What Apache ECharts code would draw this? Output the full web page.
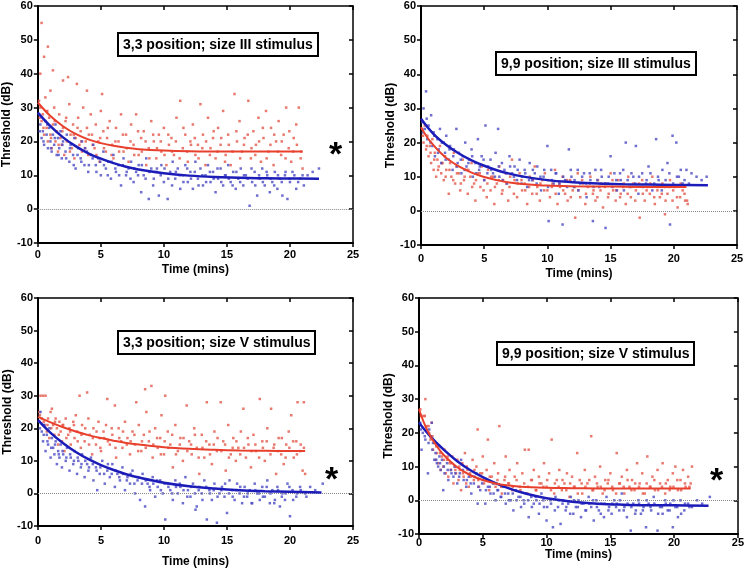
<!DOCTYPE html>
<html><head><meta charset="utf-8">
<script src="https://cdn.jsdelivr.net/npm/echarts@6/dist/echarts.min.js"></script>
<style>html,body{margin:0;padding:0;background:#fff}#c{width:747px;height:569px}</style>
</head><body><div id="c"></div>
<script>
// ---- tick labels ----
const xTicks = [0, 5, 10, 15, 20, 25];
const yTicks = [-10, 0, 10, 20, 30, 40, 50, 60];
const titles = ['3,3 position; size III stimulus', '9,9 position; size III stimulus', '3,3 position; size V stimulus', '9,9 position; size V stimulus'];

// ---- scatter points, flat [t, dB, t, dB, ...] ----
const p1Red = [0.1,32,0.2,30,0.3,26,0.4,28,0.5,22,0.6,33,0.7,24,0.8,20,0.9,27,1.0,22,1.1,18,1.2,25,1.3,30,1.4,20,1.5,23,1.6,17,1.7,28,1.8,21,1.9,19,2.0,24,2.1,16,2.2,26,2.3,20,2.5,31,2.6,22,2.7,18,2.8,25,2.9,15,3.0,21,3.2,27,3.3,19,3.4,23,3.5,17,3.6,30,3.8,20,3.9,24,4.0,16,4.2,28,4.3,22,4.5,18,4.6,25,4.8,20,4.9,14,5.0,29,5.2,23,5.4,17,5.5,21,5.7,26,5.9,19,6.0,15,6.2,24,6.4,20,6.6,28,6.8,17,7.0,22,7.2,14,7.4,25,7.6,19,7.8,28,8.0,16,8.2,21,8.4,23,8.6,13,8.8,18,9.0,26,9.2,20,9.4,15,9.6,22,9.8,17,10.0,24,10.2,13,10.4,19,10.6,21,10.8,16,11.0,27,11.3,32,11.5,18,11.7,22,11.9,14,12.1,20,12.3,25,12.5,16,12.7,19,12.9,31,13.1,22,13.3,13,13.5,27,13.7,18,13.9,21,14.1,15,14.3,24,14.5,19,14.7,29,14.9,16,15.1,22,15.3,13,15.6,34,15.8,20,16.0,26,16.2,17,16.4,21,16.7,32,16.9,15,17.1,23,17.3,19,17.5,27,17.7,14,17.9,21,18.1,29,18.3,17,18.5,24,18.7,13,18.9,20,19.1,26,19.3,16,19.5,22,19.7,30,19.9,18,20.1,14,20.3,21,20.5,25,20.7,30,20.9,17,21.0,12,0.3,55,0.8,48,0.5,45,1.2,41,2.0,38,2.4,39,3.1,37,3.9,35,0.2,40,5.1,34,1.0,35];
const p1RedB = [0.15,27,0.45,24,0.75,29,1.05,21,1.35,26,1.65,19,1.95,23,2.25,27,2.55,17,2.85,22,3.15,24,3.45,20,3.75,18,4.05,22,4.35,19,4.65,16,4.95,21,5.25,18,5.55,24,5.85,16,6.15,20,6.45,17,6.75,22,7.05,18,7.35,20,7.65,16,7.95,23,8.25,17,8.55,20,8.85,15,9.15,22,9.45,18,9.75,20,10.05,16,10.35,22,10.65,17,10.95,20,11.25,15,11.55,24,11.85,17,12.15,19,12.45,21,12.75,15,13.05,18,13.35,20,13.65,16,13.95,23,14.25,17,14.55,21,14.85,14,15.15,19,15.45,17,15.75,23,16.05,15,16.35,19,16.65,22,16.95,18,17.25,16,17.55,20,17.85,24,18.15,15,18.45,19,18.75,22,19.05,17,19.35,20,19.65,15,19.95,23,20.25,17,20.55,19,20.85,15];
const p1Blue = [0.1,28,0.2,25,0.3,21,0.4,23,0.5,19,0.6,26,0.7,22,0.8,18,0.9,24,1.0,20,1.1,17,1.2,22,1.3,19,1.4,25,1.5,16,1.6,21,1.7,18,1.8,23,1.9,15,2.0,20,2.2,17,2.3,22,2.5,14,2.6,19,2.8,16,2.9,21,3.0,12,3.2,18,3.4,15,3.5,20,3.7,13,3.9,17,4.0,11,4.2,16,4.4,19,4.6,13,4.8,15,5.0,10,5.2,17,5.4,12,5.6,14,5.8,9,6.0,16,6.2,11,6.4,13,6.6,7,6.8,15,7.0,10,7.2,12,7.4,14,7.6,8,7.8,11,8.0,13,8.2,5,8.4,10,8.6,15,8.8,3,9.0,12,9.2,9,9.4,11,9.6,4,9.8,13,10.0,8,10.3,3,10.5,11,10.7,14,10.9,9,11.1,12,11.3,6,11.5,10,11.7,13,11.9,8,12.1,11,12.3,6,12.5,14,12.7,9,12.9,12,13.1,7,13.3,10,13.5,13,13.7,8,13.9,11,14.1,5,14.3,9,14.5,12,14.7,7,14.9,10,15.1,13,15.3,8,15.5,11,15.7,6,15.9,9,16.1,12,16.3,7,16.5,10,16.8,1,17.0,8,17.2,11,17.4,4,17.6,9,17.8,12,18.0,7,18.2,10,18.4,5,18.6,8,18.8,11,19.0,6,19.2,9,19.4,4,19.6,10,19.8,3,20.0,8,20.2,11,20.5,6,20.8,9,21.1,7,21.4,10,21.8,11,22.3,12];
const p1BlueB = [0.15,23,0.45,20,0.75,25,1.05,18,1.35,21,1.65,16,1.95,19,2.25,15,2.55,18,2.85,13,3.15,16,3.45,14,3.75,18,4.05,13,4.35,15,4.65,11,4.95,14,5.25,13,5.55,10,5.85,14,6.15,12,6.45,10,6.75,13,7.05,11,7.35,9,7.65,12,7.95,10,8.25,13,8.55,9,8.85,11,9.15,7,9.45,12,9.75,10,10.05,12,10.35,9,10.65,7,10.95,11,11.25,10,11.55,8,11.85,12,12.15,9,12.45,11,12.75,7,13.05,10,13.35,8,13.65,11,13.95,9,14.25,12,14.55,8,14.85,10,15.15,9,15.45,7,15.75,11,16.05,8,16.35,10,16.65,9,16.95,12,17.25,7,17.55,10,17.85,8,18.15,11,18.45,9,18.75,7,19.05,10,19.35,8,19.65,11,19.95,9,20.35,10,20.65,8,21.0,10];
const p2Red = [0.1,24,0.2,20,0.3,25,0.4,18,0.5,22,0.6,16,0.7,19,0.8,14,0.9,21,1.0,12,1.1,17,1.2,10,1.3,15,1.4,13,1.5,19,1.6,11,1.7,14,1.8,9,1.9,16,2.0,12,2.2,5,2.3,14,2.4,10,2.6,17,2.7,8,2.8,13,3.0,11,3.1,6,3.3,15,3.4,9,3.6,12,3.7,5,3.9,10,4.0,14,4.2,8,4.3,3,4.5,11,4.7,7,4.8,13,5.0,9,5.2,4,5.3,12,5.5,6,5.7,10,5.8,2,6.0,8,6.2,13,6.4,5,6.5,9,6.7,11,6.9,3,7.0,7,7.2,15,7.4,9,7.6,4,7.8,11,8.0,6,8.2,8,8.4,2,8.6,10,8.8,5,9.0,13,9.2,7,9.4,3,9.6,9,9.8,11,10.0,6,10.2,4,10.4,8,10.6,12,10.8,2,11.0,7,11.2,10,11.4,5,11.6,3,11.8,9,12.0,6,12.2,-2,12.4,11,12.6,4,12.8,8,13.0,2,13.2,7,13.4,10,13.6,5,13.8,3,14.0,9,14.2,6,14.4,1,14.6,8,14.8,4,15.0,11,15.2,6,15.4,3,15.6,9,15.8,5,16.0,7,16.2,2,16.4,10,16.6,4,16.8,8,17.0,6,17.3,-2,17.5,9,17.7,3,17.9,7,18.1,5,18.3,10,18.5,2,18.7,6,18.9,4,19.1,8,19.3,-1,19.5,5,19.7,9,19.9,3,20.1,7,20.3,1,20.5,4,20.7,6,20.9,3,21.1,2];
const p2RedB = [0.15,22,0.45,19,0.75,17,1.05,15,1.35,12,1.65,14,1.95,10,2.25,12,2.55,9,2.85,11,3.15,8,3.45,10,3.75,12,4.05,7,4.35,9,4.65,11,4.95,6,5.25,8,5.55,10,5.85,7,6.15,9,6.45,6,6.75,8,7.05,10,7.35,5,7.65,8,7.95,9,8.25,6,8.55,7,8.85,9,9.15,5,9.45,8,9.75,6,10.05,9,10.35,7,10.65,5,10.95,8,11.25,6,11.55,9,11.85,4,12.15,7,12.45,6,12.75,9,13.05,5,13.35,8,13.65,6,13.95,4,14.25,8,14.55,7,14.85,5,15.15,9,15.45,6,15.75,4,16.05,8,16.35,5,16.65,7,16.95,3,17.25,8,17.55,5,17.85,6,18.15,8,18.45,4,18.75,7,19.05,5,19.35,3,19.65,7,19.95,6,20.25,4,20.55,8,20.85,5,21.05,3];
const p2Blue = [0.2,30,0.4,35,0.1,26,0.3,24,0.5,21,0.6,25,0.8,28,0.9,19,1.0,23,1.1,16,1.3,21,1.4,18,1.5,24,1.6,14,1.8,20,1.9,17,2.0,22,2.2,15,2.3,19,2.5,12,2.6,18,2.8,24,2.9,14,3.0,17,3.2,11,3.3,16,3.5,20,3.6,13,3.8,15,4.0,18,4.1,10,4.3,14,4.5,21,4.6,12,4.8,16,5.0,9,5.1,25,5.3,13,5.5,15,5.7,11,5.9,17,6.1,24,6.2,10,6.4,14,6.6,12,6.8,8,7.0,16,7.2,11,7.4,13,7.6,9,7.8,15,8.0,10,8.2,12,8.4,7,8.6,14,8.8,9,9.0,11,9.2,13,9.5,6,9.7,10,10.0,19,10.1,-3,10.3,12,10.5,8,10.7,11,10.9,5,11.2,-4,11.4,9,11.7,18,11.9,10,12.1,7,12.4,12,12.6,8,12.9,11,13.1,4,13.4,9,13.6,-3,13.8,12,14.1,7,14.3,10,14.6,-5,14.8,8,15.0,16,15.3,11,15.5,6,15.8,9,16.0,12,16.2,20,16.5,7,16.8,10,17.0,19,17.2,5,17.5,11,17.8,8,18.0,13,18.3,6,18.6,21,18.8,9,19.1,12,19.3,7,19.5,14,19.7,-4,19.9,22,20.2,20,20.4,10,20.7,8,21.0,12,21.4,11,21.8,10,22.2,9,22.6,10];
const p2BlueB = [0.15,23,0.45,27,0.75,20,1.05,22,1.35,17,1.65,20,1.95,15,2.25,18,2.55,16,2.85,13,3.15,15,3.45,12,3.75,14,4.05,16,4.35,11,4.65,13,4.95,15,5.25,11,5.55,12,5.85,10,6.15,13,6.45,9,6.75,11,7.05,13,7.35,10,7.65,12,7.95,8,8.25,11,8.55,9,8.85,12,9.15,8,9.45,10,9.75,12,10.05,7,10.35,9,10.65,11,10.95,8,11.25,10,11.55,7,11.85,12,12.15,9,12.45,6,12.75,10,13.05,8,13.35,11,13.65,7,13.95,9,14.25,12,14.55,8,14.85,10,15.15,7,15.45,9,15.75,11,16.05,6,16.35,9,16.65,11,16.95,8,17.25,10,17.55,7,17.85,9,18.15,11,18.45,8,18.75,10,19.05,6,19.35,9,19.65,11,19.95,8,20.25,10,20.55,12,20.85,9,21.2,8];
const p3Red = [0.2,30,0.4,30,0.6,30,0.1,25,0.3,23,0.5,21,0.7,19,0.8,23,0.9,17,1.0,25,1.1,26,1.2,21,1.3,18,1.4,23,1.5,20,1.6,15,1.7,22,1.8,19,1.9,16,2.0,21,2.1,13,2.2,23,2.4,18,2.5,20,2.6,15,2.8,22,2.9,17,3.0,24,3.1,19,3.3,30,3.4,14,3.5,21,3.7,16,3.9,31,4.0,23,4.1,18,4.3,12,4.4,20,4.6,15,4.8,22,4.9,17,5.0,13,5.2,19,5.4,21,5.5,29,5.7,15,5.9,18,6.1,27,6.2,11,6.4,20,6.6,16,6.7,14,6.9,22,7.1,17,7.3,12,7.5,19,7.7,15,7.8,28,8.0,21,8.2,13,8.4,18,8.5,32,8.6,25,8.8,16,9.0,33,9.1,11,9.3,20,9.5,14,9.7,17,9.8,24,10.0,12,10.1,30,10.3,19,10.5,15,10.7,8,10.9,21,11.1,13,11.3,17,11.5,10,11.8,27,12.0,16,12.2,12,12.4,20,12.6,14,12.8,6,13.0,18,13.2,11,13.4,28,13.6,15,13.8,9,14.0,19,14.2,13,14.5,28,14.7,16,14.9,7,15.1,21,15.3,12,15.5,17,15.7,10,15.9,14,16.1,19,16.3,26,16.5,11,16.7,15,16.9,8,17.1,18,17.3,13,17.6,29,17.8,16,18.0,10,18.2,20,18.5,26,18.7,14,18.9,6,19.1,17,19.3,12,19.5,9,19.7,15,19.9,19,20.1,24,20.3,11,20.5,16,20.6,28,20.8,13,21.0,7,21.1,28,21.2,6];
const p3RedB = [0.15,24,0.45,22,0.75,21,1.05,20,1.35,22,1.65,18,1.95,21,2.25,17,2.55,19,2.85,21,3.15,16,3.45,18,3.75,20,4.05,15,4.35,17,4.65,19,4.95,14,5.25,17,5.55,16,5.85,20,6.15,14,6.45,17,6.75,19,7.05,15,7.35,16,7.65,18,7.95,13,8.25,16,8.55,14,8.85,19,9.15,15,9.45,17,9.75,12,10.05,16,10.35,14,10.65,18,10.95,12,11.25,15,11.55,17,11.85,13,12.15,15,12.45,18,12.75,11,13.05,14,13.35,16,13.65,12,13.95,15,14.25,17,14.55,13,14.85,15,15.15,11,15.45,14,15.75,16,16.05,12,16.35,14,16.65,17,16.95,13,17.25,15,17.55,11,17.85,14,18.15,16,18.45,12,18.75,15,19.05,13,19.35,17,19.65,11,19.95,14,20.25,16,20.55,12,20.85,15,21.1,14];
const p3Blue = [0.1,22,0.2,25,0.3,19,0.4,16,0.5,21,0.6,13,0.7,18,0.8,15,0.9,20,1.0,11,1.1,17,1.2,14,1.3,12,1.4,16,1.5,9,1.6,13,1.7,11,1.8,15,1.9,8,2.0,12,2.2,10,2.3,14,2.5,7,2.6,11,2.8,9,2.9,13,3.1,6,3.2,10,3.4,8,3.5,12,3.7,5,3.9,9,4.0,7,4.2,11,4.4,4,4.6,8,4.7,1,4.9,6,5.1,10,5.3,3,5.5,7,5.7,5,5.9,9,6.1,2,6.3,6,6.5,4,6.7,8,6.9,1,7.1,5,7.3,3,7.5,7,7.7,0,7.9,4,8.1,-2,8.3,6,8.5,-4,8.7,3,8.9,1,9.1,5,9.3,-1,9.5,2,9.7,4,9.9,0,10.1,-8,10.3,3,10.5,1,10.7,-2,10.9,4,11.1,0,11.3,2,11.5,-3,11.7,5,11.9,1,12.1,-1,12.3,3,12.5,-5,12.6,-4,12.8,2,13.0,0,13.2,4,13.4,-8,13.6,1,13.8,-2,14.0,3,14.2,-9,14.4,0,14.6,2,14.8,-1,15.0,-6,15.2,4,15.4,1,15.6,-2,15.8,3,16.0,0,16.2,-3,16.4,2,16.6,-1,16.8,1,17.0,-3,17.2,3,17.4,0,17.6,-2,17.8,2,18.0,-1,18.2,4,18.4,-3,18.6,1,18.8,-2,19.0,2,19.2,-4,19.4,0,19.6,-2,19.8,3,20.0,-7,20.2,1,20.5,-1,20.8,2,21.2,0,21.6,2,22.0,1,22.6,3];
const p3BlueB = [0.15,20,0.45,18,0.75,16,1.05,14,1.35,15,1.65,12,1.95,13,2.25,11,2.55,12,2.85,10,3.15,11,3.45,9,3.75,10,4.05,8,4.35,9,4.65,7,4.95,8,5.25,6,5.55,9,5.85,6,6.15,7,6.45,5,6.75,6,7.05,4,7.35,6,7.65,3,7.95,5,8.25,3,8.55,4,8.85,2,9.15,3,9.45,4,9.75,1,10.05,3,10.35,2,10.65,0,10.95,2,11.25,3,11.55,1,11.85,-1,12.15,2,12.45,0,12.75,1,13.05,-2,13.35,2,13.65,0,13.95,1,14.25,-1,14.55,1,14.85,3,15.15,0,15.45,-1,15.75,1,16.05,2,16.35,-1,16.65,0,16.95,-3,17.25,1,17.55,0,17.85,-1,18.15,2,18.45,0,18.75,-3,19.05,1,19.35,-1,19.65,0,19.95,2,20.25,-2,20.55,0,20.85,1,21.3,-1];
const p4Red = [0.1,27,0.2,25,0.4,25,0.5,30,0.6,22,0.8,20,0.9,18,1.0,23,1.1,15,1.2,17,1.3,12,1.4,14,1.5,11,1.6,16,1.7,9,1.8,13,1.9,10,2.0,15,2.1,8,2.2,12,2.3,7,2.4,11,2.5,9,2.6,13,2.7,5,2.8,10,2.9,8,3.0,12,3.1,6,3.2,9,3.3,3,3.4,11,3.5,7,3.6,14,3.7,5,3.8,9,3.9,4,4.0,8,4.2,12,4.3,6,4.5,10,4.6,21,4.7,4,4.8,8,5.0,13,5.1,5,5.3,9,5.4,18,5.5,3,5.7,7,5.9,11,6.0,4,6.2,8,6.3,22,6.5,2,6.7,6,6.8,13,7.0,5,7.1,9,7.3,3,7.5,7,7.7,11,7.9,4,8.1,8,8.3,15,8.5,2,8.6,15,8.8,6,9.0,9,9.2,3,9.4,7,9.6,5,9.8,11,10.0,4,10.2,8,10.4,18,10.6,2,10.8,6,11.0,9,11.2,3,11.4,5,11.6,8,11.8,1,12.0,7,12.2,4,12.4,14,12.6,6,12.8,2,13.0,9,13.2,5,13.5,19,13.6,3,13.8,7,14.0,4,14.2,10,14.4,2,14.6,6,14.8,5,15.0,8,15.2,3,15.5,14,15.7,5,15.9,7,16.1,2,16.3,9,16.5,4,16.7,6,16.9,3,17.1,11,17.3,5,17.5,8,17.7,2,17.9,13,18.1,4,18.3,7,18.5,3,18.7,9,18.9,5,19.1,11,19.3,2,19.5,6,19.7,4,19.9,8,20.1,10,20.3,3,20.5,6,20.7,9,20.9,4,21.1,7,21.3,5,21.4,10];
const p4RedB = [0.15,25,0.45,25,0.75,22,1.05,19,1.35,16,1.65,14,1.95,12,2.25,13,2.55,11,2.85,9,3.15,10,3.45,8,3.75,10,4.05,7,4.35,9,4.65,6,4.95,8,5.25,6,5.55,7,5.85,5,6.15,6,6.45,4,6.75,7,7.05,5,7.35,4,7.65,6,7.95,3,8.25,5,8.55,4,8.85,6,9.15,3,9.45,5,9.75,4,10.05,6,10.35,3,10.65,5,10.95,4,11.25,6,11.55,3,11.85,5,12.15,4,12.45,2,12.75,5,13.05,4,13.35,6,13.65,3,13.95,5,14.25,4,14.55,3,14.85,6,15.15,4,15.45,2,15.75,5,16.05,4,16.35,6,16.65,3,16.95,5,17.25,4,17.55,2,17.85,5,18.15,4,18.45,6,18.75,3,19.05,4,19.35,5,19.65,3,19.95,4,20.25,6,20.55,3,20.85,5,21.2,4];
const p4Blue = [0.1,23,0.2,15,0.3,20,0.5,18,0.7,8,0.8,21,0.9,19,1.0,23,1.1,17,1.2,12,1.3,14,1.4,11,1.5,10,1.6,13,1.7,9,1.8,12,1.9,3,2.0,8,2.2,11,2.3,6,2.5,9,2.7,7,2.8,10,3.0,5,3.2,8,3.3,12,3.5,6,3.7,4,3.9,7,4.1,2,4.3,5,4.5,8,4.6,-1,4.8,3,5.0,6,5.2,-1,5.4,4,5.6,2,5.8,5,6.0,0,6.2,3,6.4,1,6.6,4,6.8,-1,7.0,2,7.2,0,7.4,-3,7.6,3,7.8,1,8.0,-2,8.2,0,8.4,2,8.6,-5,8.8,1,9.0,-1,9.2,0,9.4,-4,9.6,2,9.8,-2,10.0,-6,10.3,0,10.5,-8,10.7,1,10.9,-2,11.1,-7,11.3,0,11.5,-3,11.7,-1,11.9,1,12.1,-4,12.3,-2,12.5,0,12.7,-5,12.9,-1,13.1,-3,13.3,1,13.5,-2,13.7,-6,13.9,0,14.1,-3,14.3,-1,14.5,-5,14.7,1,14.9,-2,15.1,-4,15.3,0,15.5,-1,15.7,-3,15.9,2,16.1,-2,16.3,-5,16.6,-9,16.8,-1,17.0,-3,17.2,0,17.4,-4,17.6,-2,17.8,-8,18.0,-1,18.2,-3,18.4,1,18.7,-9,18.9,-2,19.1,-4,19.3,0,19.5,-3,19.7,-1,19.9,-8,20.1,-2,20.3,-5,20.5,0,20.8,-3,21.1,-1,21.4,-2,21.8,0,22.2,-1,22.8,1];
const p4BlueB = [0.15,21,0.45,19,0.75,17,1.05,15,1.35,12,1.65,11,1.95,10,2.25,9,2.55,8,2.85,8,3.15,7,3.45,9,3.75,6,4.05,5,4.35,7,4.65,4,4.95,5,5.25,3,5.55,4,5.85,2,6.15,3,6.45,1,6.75,2,7.05,0,7.35,2,7.65,0,7.95,1,8.25,-1,8.55,0,8.85,-2,9.15,1,9.45,-1,9.75,0,10.05,-2,10.35,-1,10.65,-3,10.95,0,11.25,-1,11.55,-2,11.85,-4,12.15,0,12.45,-2,12.75,-1,13.05,-3,13.35,-1,13.65,0,13.95,-2,14.25,-4,14.55,-1,14.85,-3,15.15,-1,15.45,-2,15.75,0,16.05,-3,16.35,-1,16.65,-2,16.95,-4,17.25,-1,17.55,-3,17.85,0,18.15,-2,18.45,-1,18.75,-4,19.05,-2,19.35,-1,19.65,-3,19.95,0,20.25,-2,20.55,-4,20.85,-1,21.2,-2];

// ---- fitted curves: times and values ----
const c1RedT = [0,1,2,3,4,5,6,7,8,10,12,15,18,21];
const c1RedY = [31.5,27.5,24.5,22.2,20.6,19.5,18.7,18.1,17.7,17.3,17.1,17.0,17.0,17.0];
const c1BlueT = [0,1,2,3,4,5,6,7,8,10,12,14,16,18,20,22.3];
const c1BlueY = [28.5,24.5,21.2,18.6,16.5,14.9,13.6,12.5,11.7,10.6,9.9,9.5,9.3,9.1,9.05,9.0];
const c2RedT = [0,0.5,1,1.5,2,3,4,5,6,7,8,10,12,15,18,21];
const c2RedY = [24.5,21.5,19.2,17.2,15.5,13.0,11.2,9.9,9.0,8.3,7.9,7.4,7.2,7.1,7.0,7.0];
const c2BlueT = [0,1,2,3,4,5,6,7,8,10,12,14,16,18,20,22.7];
const c2BlueY = [27,22.5,19.3,16.8,14.8,13.2,11.9,10.9,10.1,9.0,8.4,8.0,7.8,7.7,7.6,7.5];
const c3RedT = [0,1,2,3,4,5,6,7,8,10,12,14,16,18,21.2];
const c3RedY = [23.5,21.8,20.3,19.0,17.9,17.0,16.2,15.5,15.0,14.2,13.7,13.4,13.2,13.1,13.0];
const c3BlueT = [0,1,2,3,4,5,6,7,8,10,12,14,16,18,20,22.5];
const c3BlueY = [22.5,18.6,15.4,12.7,10.5,8.7,7.2,5.9,4.9,3.3,2.2,1.5,1.0,0.7,0.5,0.3];
const c4RedT = [0,0.5,1,1.5,2,3,4,5,6,7,8,10,12,15,18,21.3];
const c4RedY = [27,22,18.3,15.5,13.2,9.8,7.5,6.0,5.0,4.4,4.0,3.7,3.6,3.5,3.5,3.5];
const c4BlueT = [0,1,2,3,4,5,6,7,8,9,10,12,14,16,18,20,22.7];
const c4BlueY = [23,18.5,14.8,11.6,9.0,6.9,5.1,3.6,2.4,1.4,0.6,-0.4,-1.0,-1.3,-1.45,-1.5,-1.6];

// ---- layout ----
const layout = [
  {grid:{left:37, top:6, width:316, height:237}, title:[118,33], star:[329,139], labMargin:6, nameGap:21},
  {grid:{left:421, top:6, width:316, height:239}, title:[496,52], star:null, labMargin:8, nameGap:23},
  {grid:{left:38, top:298, width:315, height:235}, title:[118,331], star:[325,464], labMargin:9, nameGap:30},
  {grid:{left:419, top:298, width:319, height:236}, title:[497,342], star:[710,465], labMargin:3, nameGap:15}
];

const toPairs = a => { const r = []; for (let i = 0; i < a.length; i += 2) r.push([a[i], a[i+1]]); return r; };
const zip = (t, y) => t.map((v, i) => [v, y[i]]);

const pts = [[p1Red.concat(p1RedB), p1Blue.concat(p1BlueB)], [p2Red.concat(p2RedB), p2Blue.concat(p2BlueB)],
             [p3Red.concat(p3RedB), p3Blue.concat(p3BlueB)], [p4Red.concat(p4RedB), p4Blue.concat(p4BlueB)]];
const curves = [[c1RedT,c1RedY,c1BlueT,c1BlueY],[c2RedT,c2RedY,c2BlueT,c2BlueY],[c3RedT,c3RedY,c3BlueT,c3BlueY],[c4RedT,c4RedY,c4BlueT,c4BlueY]];

const FONT = 'Liberation Sans, Arial, sans-serif';
const RED_DOT = '#e4584a', BLUE_DOT = '#4a4ac4', RED_LINE = '#e8402c', BLUE_LINE = '#1c1cb8';

const grids = [], xAxes = [], yAxes = [], series = [], titleArr = [], graphics = [];
layout.forEach((L, i) => {
  grids.push(L.grid);
  xAxes.push({gridIndex:i, type:'value', min:xTicks[0], max:xTicks[xTicks.length-1], interval:5,
    name:'Time (mins)', nameLocation:'middle', nameGap:L.nameGap,
    nameTextStyle:{fontFamily:FONT, fontWeight:'bold', fontSize:12, color:'#000'},
    axisLine:{onZero:false, lineStyle:{color:'#000', width:2}},
    axisTick:{length:4, lineStyle:{color:'#000', width:1.5}},
    axisLabel:{margin:L.labMargin, fontFamily:FONT, fontWeight:'bold', fontSize:11, color:'#000'},
    splitLine:{show:false}});
  yAxes.push({gridIndex:i, type:'value', min:yTicks[0], max:yTicks[yTicks.length-1], interval:10,
    name:'Threshold (dB)', nameLocation:'middle', nameGap:22,
    nameTextStyle:{fontFamily:FONT, fontWeight:'bold', fontSize:12, color:'#000'},
    axisLine:{onZero:false, lineStyle:{color:'#000', width:2}},
    axisTick:{length:4, lineStyle:{color:'#000', width:1.5}},
    axisLabel:{margin:5, fontFamily:FONT, fontWeight:'bold', fontSize:11, color:'#000'},
    splitLine:{show:false}});
});
layout.forEach((L, i) => {
  xAxes.push({gridIndex:i, type:'value', position:'top', min:0, max:25, interval:5,
    axisLine:{onZero:false, lineStyle:{color:'#000', width:1.5}},
    axisTick:{inside:true, length:4, lineStyle:{color:'#000', width:1.5}},
    axisLabel:{show:false}, splitLine:{show:false}});
  yAxes.push({gridIndex:i, type:'value', position:'right', min:-10, max:60, interval:10,
    axisLine:{onZero:false, lineStyle:{color:'#000', width:1.5}},
    axisTick:{inside:true, length:4, lineStyle:{color:'#000', width:1.5}},
    axisLabel:{show:false}, splitLine:{show:false}});
});
layout.forEach((L, i) => {
  series.push({type:'scatter', xAxisIndex:i, yAxisIndex:i, data:toPairs(pts[i][0]), symbol:'rect', symbolSize:2.5,
    itemStyle:{color:RED_DOT}, silent:true, z:2,
    markLine:{silent:true, symbol:'none', label:{show:false}, lineStyle:{type:'dotted', color:'#8a8a8a', width:1}, data:[{yAxis:0}]}});
  series.push({type:'scatter', xAxisIndex:i, yAxisIndex:i, data:toPairs(pts[i][1]), symbol:'rect', symbolSize:2.5,
    itemStyle:{color:BLUE_DOT}, silent:true, z:2});
  const c = curves[i];
  const redFirst = (i === 1 || i === 3);
  const redS = {type:'line', xAxisIndex:i, yAxisIndex:i, data:zip(c[0], c[1]), smooth:0.4, showSymbol:false,
    lineStyle:{color:RED_LINE, width:2}, silent:true, z:5};
  const blueS = {type:'line', xAxisIndex:i, yAxisIndex:i, data:zip(c[2], c[3]), smooth:0.4, showSymbol:false,
    lineStyle:{color:BLUE_LINE, width:2.5}, silent:true, z:5};
  if (redFirst) { series.push(blueS, redS); } else { series.push(redS, blueS); }
  titleArr.push({text:titles[i], left:L.title[0], top:L.title[1], padding:[5,5,4,5],
    borderColor:'#000', borderWidth:2, backgroundColor:'#fff',
    textStyle:{fontFamily:FONT, fontWeight:'bold', fontSize:14, color:'#000'}});
  if (L.star) graphics.push({type:'text', left:L.star[0], top:L.star[1], z:10,
    style:{text:'*', fontFamily:FONT, fontWeight:'bold', fontSize:34, fill:'#000'}});
});

const chart = echarts.init(document.getElementById('c'), null, {renderer:'canvas'});
chart.setOption({animation:false, backgroundColor:'#fff', title:titleArr, grid:grids, xAxis:xAxes, yAxis:yAxes, series:series, graphic:graphics});
</script></body></html>
